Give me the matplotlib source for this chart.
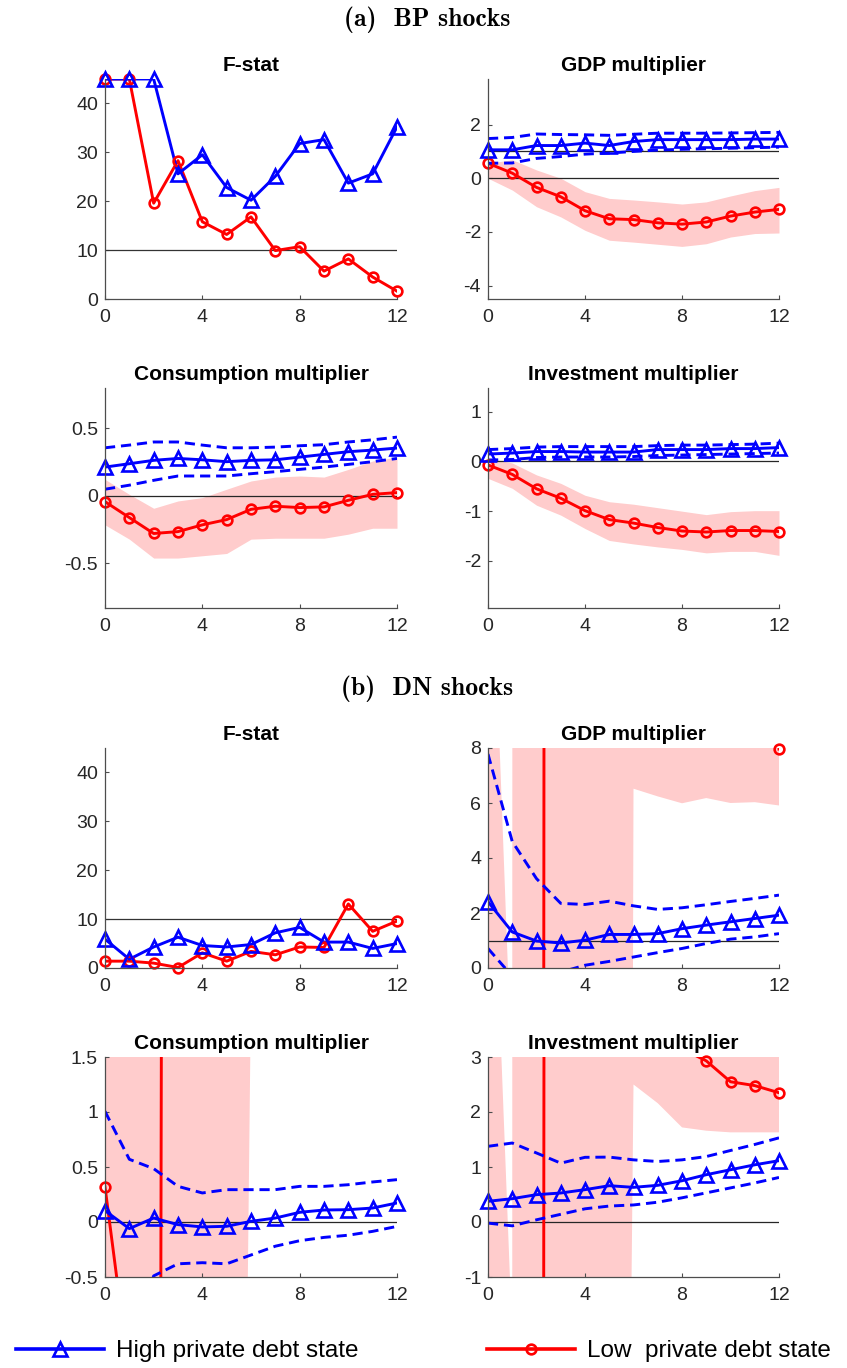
import numpy as np
import matplotlib.pyplot as plt
from matplotlib.lines import Line2D
from matplotlib.ticker import FuncFormatter

plt.rcParams['font.family'] = ['Liberation Sans', 'DejaVu Sans']
plt.rcParams['axes.unicode_minus'] = False

W, H = 847, 1368
h = np.arange(13)

# ---- (a) BP shocks ----
bp_f_high = [45, 45, 45, 25.6, 29.5, 22.8, 20.2, 25.1, 31.8, 32.6, 23.7, 25.6, 35.2]
bp_f_low = [45, 45, 19.6, 28.3, 15.8, 13.2, 16.8, 9.9, 10.7, 5.7, 8.2, 4.5, 1.6]

bp_gdp_high = [1.06, 1.06, 1.22, 1.22, 1.31, 1.22, 1.37, 1.44, 1.44, 1.44, 1.44, 1.46, 1.46]
bp_gdp_high_hi = [1.48, 1.52, 1.65, 1.63, 1.62, 1.60, 1.64, 1.68, 1.68, 1.68, 1.69, 1.70, 1.71]
bp_gdp_high_lo = [0.56, 0.57, 0.74, 0.81, 0.90, 0.94, 1.00, 1.05, 1.08, 1.10, 1.12, 1.14, 1.16]
bp_gdp_low = [0.56, 0.19, -0.34, -0.69, -1.21, -1.51, -1.54, -1.66, -1.71, -1.63, -1.41, -1.26, -1.16]
bp_gdp_low_hi = [0.56, 0.69, 0.31, 0.0, -0.50, -0.75, -0.81, -0.88, -0.96, -0.88, -0.66, -0.46, -0.34]
bp_gdp_low_lo = [0.0, -0.44, -1.06, -1.44, -1.94, -2.31, -2.38, -2.46, -2.54, -2.44, -2.19, -2.06, -2.04]

bp_c_high = [0.214, 0.239, 0.264, 0.278, 0.268, 0.254, 0.264, 0.268, 0.288, 0.308, 0.328, 0.34, 0.355]
bp_c_high_hi = [0.357, 0.377, 0.40, 0.40, 0.377, 0.357, 0.357, 0.362, 0.372, 0.38, 0.40, 0.416, 0.436]
bp_c_high_lo = [0.05, 0.08, 0.116, 0.148, 0.148, 0.148, 0.165, 0.18, 0.197, 0.214, 0.234, 0.254, 0.278]
bp_c_low = [-0.042, -0.16, -0.278, -0.264, -0.214, -0.175, -0.099, -0.076, -0.086, -0.081, -0.032, 0.012, 0.025]
bp_c_low_hi = [0.123, 0.012, -0.091, -0.037, -0.012, 0.05, 0.111, 0.14, 0.148, 0.14, 0.197, 0.259, 0.288]
bp_c_low_lo = [-0.214, -0.32, -0.46, -0.46, -0.443, -0.426, -0.32, -0.313, -0.313, -0.313, -0.283, -0.239, -0.239]

bp_i_high = [0.15, 0.17, 0.20, 0.20, 0.19, 0.19, 0.19, 0.24, 0.24, 0.24, 0.26, 0.26, 0.28]
bp_i_high_hi = [0.24, 0.26, 0.29, 0.30, 0.30, 0.30, 0.30, 0.32, 0.33, 0.33, 0.34, 0.35, 0.37]
bp_i_high_lo = [0.03, 0.04, 0.08, 0.09, 0.09, 0.09, 0.10, 0.12, 0.13, 0.14, 0.15, 0.16, 0.17]
bp_i_low = [-0.07, -0.26, -0.55, -0.74, -0.99, -1.17, -1.24, -1.33, -1.40, -1.42, -1.39, -1.39, -1.41]
bp_i_low_hi = [0.07, -0.03, -0.27, -0.44, -0.68, -0.81, -0.86, -0.93, -1.0, -1.07, -1.01, -0.99, -0.99]
bp_i_low_lo = [-0.34, -0.54, -0.88, -1.08, -1.35, -1.59, -1.66, -1.72, -1.77, -1.84, -1.81, -1.81, -1.89]

# ---- (b) DN shocks ----
dn_f_high = [5.9, 1.8, 4.3, 6.3, 4.6, 4.3, 4.8, 7.2, 8.3, 5.3, 5.3, 4.0, 5.0]
dn_f_low = [1.4, 1.4, 1.0, 0.1, 3.1, 1.4, 3.4, 2.7, 4.3, 4.2, 13.1, 7.5, 9.6]

dn_gdp_high = [2.41, 1.31, 0.98, 0.91, 1.01, 1.22, 1.22, 1.25, 1.43, 1.56, 1.68, 1.80, 1.92]
dn_gdp_high_hi = [7.78, 4.6, 3.25, 2.35, 2.31, 2.43, 2.26, 2.13, 2.19, 2.30, 2.42, 2.53, 2.65]
dn_gdp_high_lo = [0.71, -0.3, -0.5, -0.15, 0.1, 0.24, 0.40, 0.56, 0.71, 0.89, 1.05, 1.13, 1.25]
dn_gdp_low = [-20, -60, -300, 700, 900, 800, 600, 500, 400, 300, 200, 100, 7.96]
dn_gdp_low_hi = [19.3, -4.2, 3000, 3000, 3000, 3000, 60, 55, 50, 50, 50, 50, 50]
dn_gdp_low_lo = [-20, -50, -3000, -3000, -3000, -300, 6.52, 6.24, 5.99, 6.18, 6.0, 6.03, 5.91]

dn_c_high = [0.103, -0.06, 0.036, -0.024, -0.045, -0.039, 0.006, 0.036, 0.088, 0.109, 0.112, 0.127, 0.173]
dn_c_high_hi = [1.006, 0.57, 0.485, 0.324, 0.264, 0.294, 0.294, 0.294, 0.324, 0.324, 0.339, 0.364, 0.385]
dn_c_high_lo = [-1.6, -1.2, -0.49, -0.38, -0.37, -0.38, -0.30, -0.22, -0.17, -0.14, -0.12, -0.085, -0.04]
dn_c_low = [0.32, -1.39, -30, 70, 60, 50, 40, 35, 30, 25, 20, 15, 10]
dn_c_low_hi = [40, 40, 40, 40, 40, 40, 40, 40, 40, 40, 40, 40, 40]
dn_c_low_lo = [-20, -20, -30, -30, -30, -17.9, 2.1, 2.5, 3, 3, 3, 3, 3]

dn_i_high = [0.376, 0.424, 0.497, 0.527, 0.588, 0.66, 0.63, 0.667, 0.75, 0.86, 0.95, 1.04, 1.115]
dn_i_high_hi = [1.376, 1.436, 1.255, 1.07, 1.176, 1.18, 1.13, 1.10, 1.13, 1.19, 1.30, 1.41, 1.53]
dn_i_high_lo = [-0.02, -0.07, 0.04, 0.14, 0.24, 0.29, 0.31, 0.36, 0.44, 0.53, 0.62, 0.71, 0.81]
dn_i_low = [-10, -20, -120, 280, 200, 150, 100, 50, 3.15, 2.93, 2.55, 2.48, 2.35]
dn_i_low_hi = [9.3, -2.1, 3000, 3000, 3000, 3000, 60, 60, 60, 60, 60, 60, 60]
dn_i_low_lo = [-20, -60, -3000, -3000, -3000, -41.5, 2.5, 2.16, 1.72, 1.66, 1.63, 1.63, 1.63]

BLUE = (0, 0, 1)
RED = (1, 0, 0)
PINK = (1, 0.8, 0.8)
DASH = (0, (3.5, 2))

fig = plt.figure(figsize=(W / 100, H / 100), dpi=100)


def make_axes(x0, x1, ytop, ybot):
    # pixel box -> figure fraction
    return fig.add_axes([x0 / W, 1 - ybot / H, (x1 - x0) / W, (ybot - ytop) / H])


def style(ax, title, ylim, yticks):
    ax.set_xlim(0, 12)
    ax.set_ylim(*ylim)
    ax.set_xticks([0, 4, 8, 12])
    ax.set_yticks(yticks)
    ax.yaxis.set_major_formatter(FuncFormatter(lambda v, p: '%g' % v))
    for s in ['top', 'right']:
        ax.spines[s].set_visible(False)
    for s in ['left', 'bottom']:
        ax.spines[s].set_color('0.3')
        ax.spines[s].set_linewidth(0.9)
        ax.spines[s].set_zorder(6)
    ax.tick_params(direction='in', length=3, color='0.3', labelsize=14,
                   labelcolor='0.15')
    ax.tick_params(axis='y', pad=5)
    ax.tick_params(axis='x', pad=7)
    ax.set_title(title, fontsize=15, fontweight='bold', pad=6)


def state_line(ax, y, color, marker, ms, ylim):
    y = np.asarray(y, float)
    ax.plot(h, y, color=color, lw=2.1, zorder=3)
    inside = (y >= ylim[0]) & (y <= ylim[1])
    ax.plot(h[inside], y[inside], ls='none', marker=marker, ms=ms, mfc='none',
            mec=color, mew=1.9, clip_on=False, zorder=4)


def fstat_panel(ax, high, low):
    ylim = (0, 45)
    ax.axhline(10, color='0.2', lw=0.9, zorder=2)
    state_line(ax, low, RED, 'o', 7, ylim)
    state_line(ax, high, BLUE, '^', 10, ylim)
    style(ax, 'F-stat', ylim, [0, 10, 20, 30, 40])


def mult_panel(ax, title, high, high_lo, high_hi, low, low_lo, low_hi,
               ylim, yticks, refs):
    ax.fill_between(h, low_lo, low_hi, color=PINK, lw=0, zorder=1)
    for r in refs:
        ax.axhline(r, color='0.15', lw=0.9, zorder=2)
    state_line(ax, low, RED, 'o', 7, ylim)
    ax.plot(h, high_hi, color=BLUE, lw=2.1, ls=DASH, zorder=3)
    ax.plot(h, high_lo, color=BLUE, lw=2.1, ls=DASH, zorder=3)
    state_line(ax, high, BLUE, '^', 10, ylim)
    style(ax, title, ylim, yticks)


LX = (105, 397)
RX = (488, 779)

ax = make_axes(*LX, 79, 299)
fstat_panel(ax, bp_f_high, bp_f_low)

ax = make_axes(*RX, 79, 299)
mult_panel(ax, 'GDP multiplier', bp_gdp_high, bp_gdp_high_lo, bp_gdp_high_hi,
           bp_gdp_low, bp_gdp_low_lo, bp_gdp_low_hi, (-4.5, 3.7), [-4, -2, 0, 2], [0, 1])

ax = make_axes(*LX, 388, 608)
mult_panel(ax, 'Consumption multiplier', bp_c_high, bp_c_high_lo, bp_c_high_hi,
           bp_c_low, bp_c_low_lo, bp_c_low_hi, (-0.83, 0.8), [-0.5, 0, 0.5], [0])

ax = make_axes(*RX, 388, 608)
mult_panel(ax, 'Investment multiplier', bp_i_high, bp_i_high_lo, bp_i_high_hi,
           bp_i_low, bp_i_low_lo, bp_i_low_hi, (-2.95, 1.48), [-2, -1, 0, 1], [0])

ax = make_axes(*LX, 748, 968)
fstat_panel(ax, dn_f_high, dn_f_low)

ax = make_axes(*RX, 748, 968)
mult_panel(ax, 'GDP multiplier', dn_gdp_high, dn_gdp_high_lo, dn_gdp_high_hi,
           dn_gdp_low, dn_gdp_low_lo, dn_gdp_low_hi, (0, 8), [0, 2, 4, 6, 8], [1])

ax = make_axes(*LX, 1057, 1277)
mult_panel(ax, 'Consumption multiplier', dn_c_high, dn_c_high_lo, dn_c_high_hi,
           dn_c_low, dn_c_low_lo, dn_c_low_hi, (-0.5, 1.5), [-0.5, 0, 0.5, 1, 1.5], [0])

ax = make_axes(*RX, 1057, 1277)
mult_panel(ax, 'Investment multiplier', dn_i_high, dn_i_high_lo, dn_i_high_hi,
           dn_i_low, dn_i_low_lo, dn_i_low_hi, (-1, 3), [-1, 0, 1, 2, 3], [0])

# section headings in Computer Modern bold
head_font = dict(family=['cmb10', 'DejaVu Serif'], size=18.5)
fig.text(0.504, 1 - 20 / H, '(a)  BP shocks', ha='center', va='center', fontdict=head_font)
fig.text(0.504, 1 - 689 / H, '(b)  DN shocks', ha='center', va='center', fontdict=head_font)

handles = [
    Line2D([], [], color=BLUE, lw=2.6, marker='^', ms=10, mfc='none', mew=1.9),
    Line2D([], [], color=RED, lw=2.6, marker='o', ms=7, mfc='none', mew=1.9),
]
fig.legend(handles, ['High private debt state', 'Low  private debt state'],
           loc='center', bbox_to_anchor=(0.5, 1 - 1351 / H), ncol=2, frameon=False,
           fontsize=17.5, handlelength=3.6, handletextpad=0.5, columnspacing=5.3,
           borderaxespad=0, borderpad=0)

fig.savefig('out.png', dpi=100)
